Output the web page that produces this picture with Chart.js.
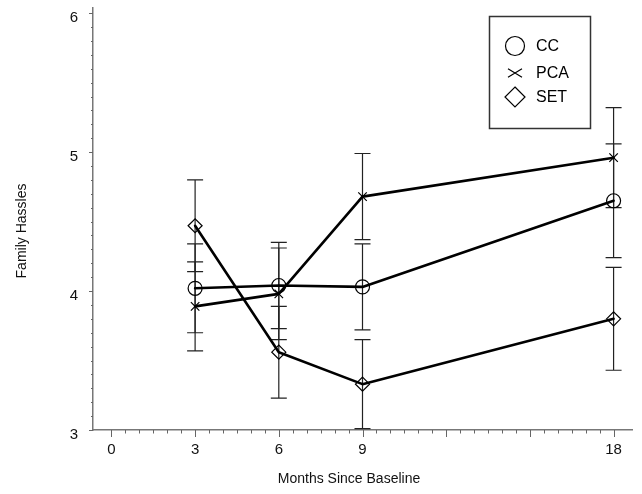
<!DOCTYPE html>
<html>
<head>
<meta charset="utf-8">
<script src="https://cdn.jsdelivr.net/npm/chart.js@4/dist/chart.umd.min.js"></script>
<style>
  html, body { margin: 0; padding: 0; background: #fff; }
  #wrap { width: 642px; height: 494px; position: relative; }
</style>
</head>
<body>
<div id="wrap"><canvas id="c"></canvas></div>
<script>
// ---- data ----
const months = [3, 6, 9, 18];
const seriesNames = ['CC', 'PCA', 'SET'];
const ccValues  = [4.02, 4.04, 4.03, 4.65];
const ccErrors  = [0.32, 0.31, 0.31, 0.41];
const pcaValues = [3.89, 3.98, 4.68, 4.96];
const pcaErrors = [0.32, 0.33, 0.31, 0.36];
const setValues = [4.47, 3.56, 3.33, 3.80];
const setErrors = [0.33, 0.33, 0.32, 0.37];
const xTickLabels = [0, 3, 6, 9, 18];
const yTickLabels = [3, 4, 5, 6];
const xTitle = 'Months Since Baseline';
const yTitle = 'Family Hassles';

const FONT = '"Liberation Sans", Arial, Helvetica, sans-serif';
const styles = [
  { pointStyle: 'circle',   radius: 7, legendRadius: 9.5 },
  { pointStyle: 'crossRot', radius: 6, legendRadius: 7 },
  { pointStyle: 'rectRot',  radius: 7, legendRadius: 10 }
];
const valuesList = [ccValues, pcaValues, setValues];
const errorsList = [ccErrors, pcaErrors, setErrors];

const datasets = seriesNames.map((name, s) => ({
  label: name,
  data: months.map((m, i) => ({ x: m, y: valuesList[s][i] })),
  borderColor: '#000',
  borderWidth: 2.6,
  pointStyle: styles[s].pointStyle,
  pointRadius: styles[s].radius,
  pointHoverRadius: styles[s].radius,
  pointBorderColor: '#000',
  pointBackgroundColor: 'rgba(0,0,0,0)',
  pointBorderWidth: 1.2,
  fill: false,
  tension: 0,
  clip: false
}));

function drawMarker(ctx, style, r, x, y) {
  ctx.beginPath();
  if (style === 'circle') {
    ctx.arc(x, y, r, 0, Math.PI * 2);
  } else if (style === 'crossRot') {
    const dx = r, dy = r * 0.6;
    ctx.moveTo(x - dx, y - dy); ctx.lineTo(x + dx, y + dy);
    ctx.moveTo(x - dx, y + dy); ctx.lineTo(x + dx, y - dy);
  } else if (style === 'rectRot') {
    ctx.moveTo(x, y - r); ctx.lineTo(x + r, y); ctx.lineTo(x, y + r); ctx.lineTo(x - r, y); ctx.closePath();
  }
  ctx.stroke();
}

const errorBarPlugin = {
  id: 'errorBars',
  beforeDatasetsDraw(chart) {
    const { ctx, scales: { x, y } } = chart;
    ctx.save();
    ctx.strokeStyle = '#222';
    ctx.lineWidth = 1.2;
    valuesList.forEach((vals, s) => {
      vals.forEach((v, i) => {
        const px = x.getPixelForValue(months[i]);
        const top = y.getPixelForValue(v + errorsList[s][i]);
        const bot = y.getPixelForValue(v - errorsList[s][i]);
        ctx.beginPath();
        ctx.moveTo(px, top); ctx.lineTo(px, bot);
        ctx.moveTo(px - 8, top); ctx.lineTo(px + 8, top);
        ctx.moveTo(px - 8, bot); ctx.lineTo(px + 8, bot);
        ctx.stroke();
      });
    });
    ctx.restore();
  }
};

const axisExtrasPlugin = {
  id: 'axisExtras',
  afterDraw(chart) {
    const { ctx, scales: { x, y }, chartArea } = chart;
    ctx.save();
    ctx.strokeStyle = '#666';
    ctx.lineWidth = 1;
    // x minor / major ticks
    for (let k = 0; k <= 36; k++) {
      const m = k * 0.5;
      const px = Math.round(x.getPixelForValue(m)) + 0.5;
      const len = (k % 6 === 0) ? 7 : 3.5;
      ctx.beginPath();
      ctx.moveTo(px, chartArea.bottom); ctx.lineTo(px, chartArea.bottom + len);
      ctx.stroke();
    }
    // y minor / major ticks
    for (let k = 0; k <= 30; k++) {
      const v = 3 + k * 0.1;
      const py = Math.round(y.getPixelForValue(v)) + 0.5;
      const len = (k % 10 === 0) ? 4 : 2;
      ctx.beginPath();
      ctx.moveTo(chartArea.left, py); ctx.lineTo(chartArea.left - len, py);
      ctx.stroke();
    }
    // axis titles
    ctx.fillStyle = '#111';
    ctx.font = '14px ' + FONT;
    ctx.textAlign = 'center';
    ctx.textBaseline = 'middle';
    ctx.fillText(xTitle, 349, 479);
    ctx.save();
    ctx.translate(22, 231);
    ctx.rotate(-Math.PI / 2);
    ctx.fillText(yTitle, 0, 0);
    ctx.restore();
    // legend box
    ctx.strokeStyle = '#333';
    ctx.lineWidth = 1.5;
    ctx.strokeRect(489.5, 16.5, 101, 112);
    const rows = [46, 73, 97];
    ctx.font = '16px ' + FONT;
    ctx.textAlign = 'left';
    seriesNames.forEach((name, s) => {
      ctx.strokeStyle = '#000';
      ctx.lineWidth = 1.2;
      drawMarker(ctx, styles[s].pointStyle, styles[s].legendRadius, 515, rows[s]);
      ctx.fillStyle = '#000';
      ctx.fillText(name, 536, rows[s] + 1);
    });
    ctx.restore();
  }
};

new Chart(document.getElementById('c'), {
  type: 'line',
  data: { datasets },
  plugins: [errorBarPlugin, axisExtrasPlugin],
  options: {
    responsive: true,
    maintainAspectRatio: false,
    animation: false,
    layout: { padding: { top: 5, right: 10, left: 0, bottom: 0 } },
    plugins: { legend: { display: false }, tooltip: { enabled: false } },
    elements: { line: { borderCapStyle: 'round', borderJoinStyle: 'round' } },
    scales: {
      x: {
        type: 'linear',
        min: -0.66,
        max: 18.66,
        afterBuildTicks(scale) { scale.ticks = xTickLabels.map(v => ({ value: v })); },
        afterFit(scale) { scale.height = 64; scale.paddingLeft = 0; scale.paddingRight = 0; },
        grid: { display: false },
        border: { display: true, color: '#777', width: 1.5 },
        ticks: {
          color: '#111',
          font: { family: FONT, size: 15 },
          padding: 3,
          maxRotation: 0,
          autoSkip: false,
          callback: (v) => String(v)
        }
      },
      y: {
        type: 'linear',
        min: 3,
        max: 6.036,
        afterBuildTicks(scale) { scale.ticks = yTickLabels.map(v => ({ value: v })); },
        afterFit(scale) { scale.width = 93; scale.paddingTop = 0; scale.paddingBottom = 0; },
        grid: { display: false },
        border: { display: true, color: '#777', width: 1.5 },
        ticks: {
          color: '#111',
          font: { family: FONT, size: 15 },
          padding: 7,
          labelOffset: 5,
          autoSkip: false,
          callback: (v) => String(v)
        }
      }
    }
  }
});
</script>
</body>
</html>
